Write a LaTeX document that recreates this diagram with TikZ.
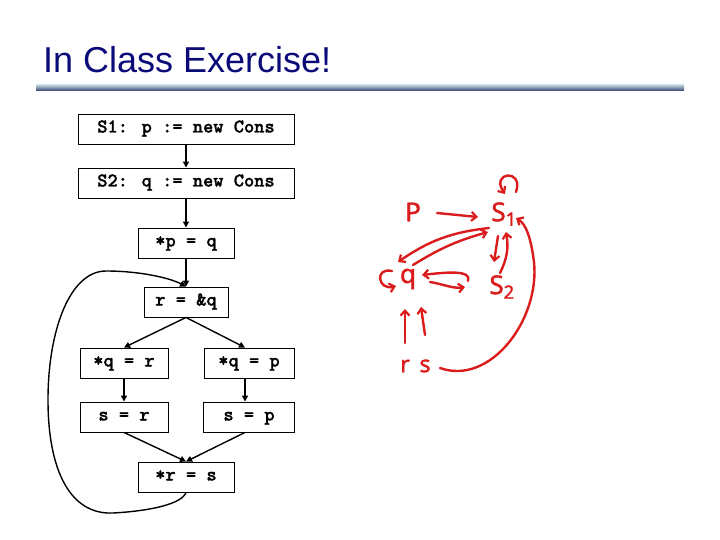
\documentclass[tikz,border=0pt]{standalone}
\usepackage{fontspec}
\setmainfont{Liberation Sans}
\newfontfamily\handfont[FakeBold=1.6]{Noto Sans}
\newfontfamily\codefont[FakeBold=1.3]{lmmonolt10-bold.otf}
\usetikzlibrary{arrows.meta}
\definecolor{titleblue}{RGB}{10,10,120}
\definecolor{inkred}{RGB}{218,28,28}
\definecolor{rulelight}{RGB}{212,232,236}
\definecolor{rulemid}{RGB}{150,180,205}
\definecolor{ruledark}{RGB}{52,66,112}
\begin{document}
\begin{tikzpicture}[x=1pt,y=-1pt,
  box/.style={draw, line width=0.9pt, minimum height=30pt, inner sep=0pt,
    text height=10pt, text depth=3pt,
    font=\codefont\fontsize{19.5}{19.5}\selectfont},
  flow/.style={line width=1.4pt, -{Triangle[length=6pt,width=6pt]}},
  ink/.style={inkred, line width=2.4pt, line cap=round,
    -{Straight Barb[length=5pt,width=9pt,line width=2.2pt]}},
  hand/.style={inkred, inner sep=0pt, font=\handfont\fontsize{26}{26}\selectfont},
  handsmall/.style={inkred, inner sep=0pt, font=\handfont\fontsize{23}{23}\selectfont}]
\useasboundingbox (0,0) rectangle (720,540);

% title and rule
\node[anchor=base west, inner sep=0pt, text=titleblue,
  font=\fontsize{36}{36}\selectfont] (title) at (43,73) {In Class Exercise!};
\shade[top color=rulelight, middle color=rulemid, bottom color=ruledark]
  (36,84) rectangle (684,91);

% flow graph
\node[box, minimum width=216pt] (s1) at (186,129) {S1: p := new Cons};
\node[box, minimum width=216pt] (s2) at (186,183) {S2: q := new Cons};
\node[box, minimum width=96pt]  (pq) at (186,243) {*p = q};
\node[box, minimum width=84pt]  (rq) at (186,302) {r = \&q};
\node[box, minimum width=88pt]  (qr) at (124,363) {*q = r};
\node[box, minimum width=90pt]  (qp) at (249,363) {*q = p};
\node[box, minimum width=88pt]  (sr) at (124,417) {s = r};
\node[box, minimum width=91pt]  (sp) at (249,417) {s = p};
\node[box, minimum width=96pt]  (rs) at (186,477) {*r = s};

\draw[flow] (s1) -- (s2);
\draw[flow] (s2) -- (pq);
\draw[flow] (pq) -- (rq);
\draw[flow] (rq.south) -- (qr.north);
\draw[flow] (rq.south) -- ([xshift=-4pt]qp.north);
\draw[flow] (qr) -- (sr);
\draw[flow] ([xshift=-4pt]qp.south) -- ([xshift=-4pt]sp.north);
\draw[flow] (sr.south) -- (rs.north);
\draw[flow] ([xshift=-4pt]sp.south) -- (rs.north);
\draw[flow] (rs.south) .. controls (182,504) and (150,511) .. (113,513)
  .. controls (70,515) and (48,470) .. (48,400)
  .. controls (48,330) and (70,271) .. (106,271)
  .. controls (140,271) and (170,278) .. (rq.north);

% hand-drawn points-to graph
\node[hand] (hp)  at (413,212) {P};
\node[hand] (hs1) at (504,214) {S\textsubscript{1}};
\node[hand] (hq)  at (408,279) {q};
\node[hand] (hs2) at (502,287) {S\textsubscript{2}};
\node[handsmall] (hr) at (405,366) {r};
\node[handsmall] (hs) at (425,366) {s};

\draw[ink] ([shift={(24,1)}]hp.center) -- ([shift={(-26,3)}]hs1.center);
\draw[ink] ([shift={(-15,14)}]hs1.center) to[bend right=14] ([shift={(-10,-17)}]hq.center);
\draw[ink] ([shift={(5,-14)}]hq.center) to[bend left=8] ([shift={(-16,18)}]hs1.center);
\draw[ink] ([shift={(-6,22)}]hs1.center) -- ([shift={(-8,-25)}]hs2.center);
\draw[ink] ([shift={(-2,-14)}]hs2.center) to[bend right=18] ([shift={(2,18)}]hs1.center);
% S1 self loop
\draw[ink] ([shift={(12,-22)}]hs1.center) .. controls ([shift={(20,-46)}]hs1.center)
  and ([shift={(-14,-42)}]hs1.center) .. ([shift={(1,-20)}]hs1.center);
% q self loop
\draw[ink] ([shift={(-16,-8)}]hq.center) .. controls ([shift={(-34,-12)}]hq.center)
  and ([shift={(-30,12)}]hq.center) .. ([shift={(-12,7)}]hq.center);
% q loop to the right
\draw[ink] ([shift={(60,2)}]hq.center) .. controls ([shift={(64,-9)}]hq.center)
  and ([shift={(40,-7)}]hq.center) .. ([shift={(14,-4)}]hq.center);
\draw[ink] ([shift={(22,3)}]hq.center) .. controls ([shift={(35,5)}]hq.center)
  and ([shift={(45,10)}]hq.center) .. ([shift={(57,8)}]hq.center);
% r, s -> q
\draw[ink] ([shift={(0,-23)}]hr.center) -- ([shift={(-3,30)}]hq.center);
\draw[ink] ([shift={(0,-31)}]hs.center) -- ([shift={(13,28)}]hq.center);
% s -> S1 big curve
\draw[ink] ([shift={(15,2)}]hs.center) .. controls (490,386) and (540,320) .. (534,262)
  .. controls (531,238) and (526,224) .. ([shift={(12,4)}]hs1.center);
\end{tikzpicture}
\end{document}
